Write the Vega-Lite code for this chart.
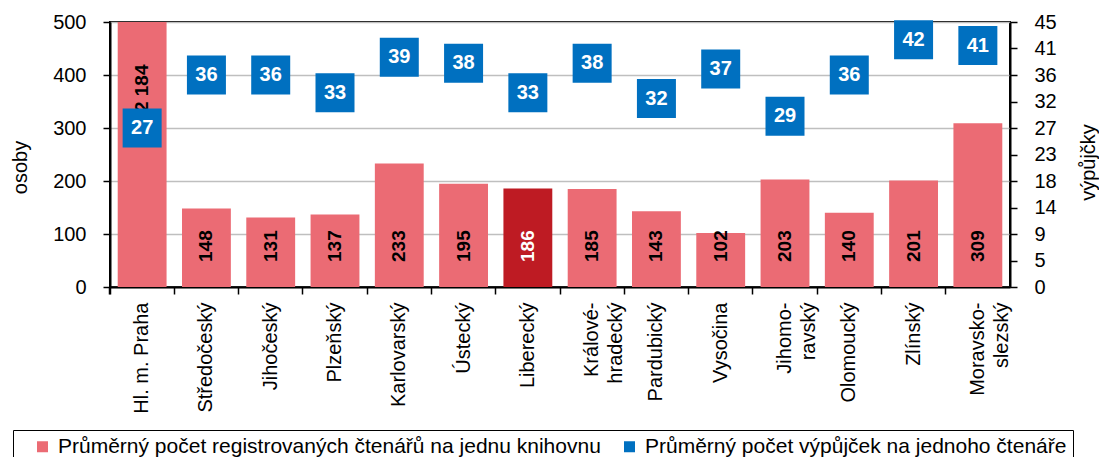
{
  "$schema": "https://vega.github.io/schema/vega-lite/v6.json",
  "width": 900,
  "height": 265,
  "autosize": "none",
  "padding": {"left": 110, "top": 22, "right": 89, "bottom": 170},
  "config": {
    "font": "Liberation Sans",
    "locale": {"number": {"decimal": ",", "thousands": "\u00a0", "grouping": [3], "currency": ["", "\u00a0Kč"]}},
    "view": {"stroke": "#000", "strokeWidth": 2},
    "axis": {
      "labelFontSize": 20, "titleFontSize": 20, "titleFontWeight": "normal",
      "labelColor": "#000", "titleColor": "#000", "domainColor": "#000", "tickColor": "#000",
      "domainWidth": 2, "tickWidth": 1.5, "tickSize": 7,
      "gridColor": "#BFBFBF", "gridWidth": 1.5
    }
  },
  "data": {"values": [
    {"kraj": "Hl. m. Praha", "ctenari": 2184, "vypujcky": 27},
    {"kraj": "Středočeský", "ctenari": 148, "vypujcky": 36},
    {"kraj": "Jihočeský", "ctenari": 131, "vypujcky": 36},
    {"kraj": "Plzeňský", "ctenari": 137, "vypujcky": 33},
    {"kraj": "Karlovarský", "ctenari": 233, "vypujcky": 39},
    {"kraj": "Ústecký", "ctenari": 195, "vypujcky": 38},
    {"kraj": "Liberecký", "ctenari": 186, "vypujcky": 33},
    {"kraj": "Královéhradecký", "ctenari": 185, "vypujcky": 38},
    {"kraj": "Pardubický", "ctenari": 143, "vypujcky": 32},
    {"kraj": "Vysočina", "ctenari": 102, "vypujcky": 37},
    {"kraj": "Jihomoravský", "ctenari": 203, "vypujcky": 29},
    {"kraj": "Olomoucký", "ctenari": 140, "vypujcky": 36},
    {"kraj": "Zlínský", "ctenari": 201, "vypujcky": 42},
    {"kraj": "Moravskoslezský", "ctenari": 309, "vypujcky": 41}
  ]},
  "layer": [
    {
      "layer": [
        {
          "mark": {"type": "bar", "clip": true, "width": {"band": 0.76}},
          "encoding": {
            "x": {
              "field": "kraj", "type": "nominal", "sort": null,
              "scale": {"paddingInner": 0, "paddingOuter": 0},
              "axis": {
                "title": null, "grid": false, "labelAngle": 270, "labelAlign": "right", "labelBaseline": "middle",
                "labelPadding": 8, "bandPosition": 0, "tickExtra": true, "labelLineHeight": 24,
                "labelExpr": "datum.label == 'Královéhradecký' ? ['Králové-', 'hradecký'] : datum.label == 'Jihomoravský' ? ['Jihomo-', 'ravský'] : datum.label == 'Moravskoslezský' ? ['Moravsko-', 'slezský'] : datum.label"
              }
            },
            "y": {
              "field": "ctenari", "type": "quantitative",
              "scale": {"domain": [0, 500], "nice": false},
              "axis": {"title": "osoby", "values": [0, 100, 200, 300, 400, 500], "tickCount": 6, "grid": true, "labelPadding": 17, "titlePadding": 22, "titleY": 145}
            },
            "color": {
              "condition": {"test": "datum.kraj === 'Liberecký'", "value": "#BE1B23"},
              "datum": "Průměrný počet registrovaných čtenářů na jednu knihovnu",
              "scale": {
                "domain": ["Průměrný počet registrovaných čtenářů na jednu knihovnu", "Průměrný počet výpůjček na jednoho čtenáře"],
                "range": ["#EB6B74", "#0070C0"]
              },
              "legend": {
                "title": null, "orient": "none", "legendX": -97, "legendY": 408, "direction": "horizontal", "columns": 2,
                "strokeColor": "#000", "fillColor": "#fff", "padding": 6,
                "symbolType": "square", "symbolSize": 121, "symbolOffset": 13, "symbolStrokeWidth": 0,
                "labelFontSize": 21, "labelColor": "#000", "labelLimit": 1000, "columnPadding": 5, "labelOffset": 5
              }
            }
          }
        },
        {
          "transform": [{"filter": "datum.ctenari <= 500"}],
          "mark": {"type": "text", "angle": 270, "align": "left", "baseline": "middle", "dx": 25, "fontWeight": "bold", "fontSize": 19},
          "encoding": {
            "x": {"field": "kraj", "type": "nominal", "sort": null},
            "y": {"datum": 0, "type": "quantitative"},
            "text": {"field": "ctenari", "type": "quantitative"},
            "color": {"condition": {"test": "datum.kraj === 'Liberecký'", "value": "#FFFFFF"}, "value": "#000000"}
          }
        },
        {
          "transform": [{"filter": "datum.ctenari > 500"}],
          "mark": {"type": "text", "angle": 270, "align": "left", "baseline": "middle", "fontWeight": "bold", "fontSize": 19, "color": "#000"},
          "encoding": {
            "x": {"field": "kraj", "type": "nominal", "sort": null},
            "y": {"datum": 330, "type": "quantitative"},
            "text": {"field": "ctenari", "type": "quantitative", "format": ","}
          }
        }
      ]
    },
    {
      "layer": [
        {
          "mark": {"type": "square", "size": 1521, "filled": true, "opacity": 1},
          "encoding": {
            "x": {"field": "kraj", "type": "nominal", "sort": null},
            "y": {
              "field": "vypujcky", "type": "quantitative",
              "scale": {"domain": [0, 45], "nice": false},
              "axis": {
                "orient": "right", "title": "výpůjčky", "grid": false,
                "values": [0, 4.5, 9, 13.5, 18, 22.5, 27, 31.5, 36, 40.5, 45], "tickCount": 11, "format": ".0f",
                "labelOverlap": false, "labelPadding": 17,
                "titleAngle": 270, "titleX": 78, "titleY": 140, "titleBaseline": "middle", "titleAlign": "center"
              }
            },
            "color": {"datum": "Průměrný počet výpůjček na jednoho čtenáře"}
          }
        },
        {
          "mark": {"type": "text", "align": "center", "baseline": "middle", "fontWeight": "bold", "fontSize": 20, "color": "#FFFFFF"},
          "encoding": {
            "x": {"field": "kraj", "type": "nominal", "sort": null},
            "y": {"field": "vypujcky", "type": "quantitative"},
            "text": {"field": "vypujcky", "type": "quantitative"}
          }
        }
      ]
    }
  ],
  "resolve": {"scale": {"y": "independent"}}
}
